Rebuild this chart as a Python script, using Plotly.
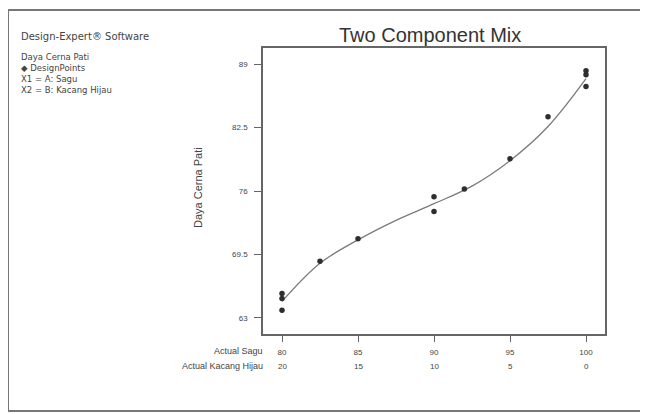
import plotly.graph_objects as go

# ---- data ----
sagu_pts = [80, 80, 80, 82.5, 85, 90, 90, 92, 95, 97.5, 100, 100, 100]
daya_pts = [65.5, 65.0, 63.8, 68.8, 71.1, 75.4, 73.9, 76.2, 79.3, 83.6, 88.3, 87.9, 86.7]

curve_sagu = [80, 82.5, 85, 87.5, 90, 92.5, 95, 97.5, 100]
curve_daya = [64.7, 68.6, 71.0, 73.0, 74.7, 76.5, 79.1, 82.6, 87.5]

sagu_ticks = [80, 85, 90, 95, 100]
kacang_ticks = [20, 15, 10, 5, 0]
y_ticks = [63, 69.5, 76, 82.5, 89]

info_lines = ["Daya Cerna Pati", "◆ DesignPoints", "X1 = A: Sagu", "X2 = B: Kacang Hijau"]

OFF = 8  # page body margin
W, H = 648 - OFF, 414 - OFF
# plot box in page pixels: left 263, right 605, top 48, bottom 334
L, T = 263 - OFF, 48 - OFF
R = W - (605 - OFF)
B = H - (334 - OFF)
PW, PH = W - L - R, H - T - B


def px(x):
    return (x - OFF - L) / PW


def py(y):
    return (H - B - (y - OFF)) / PH


FONT = "Liberation Sans, Arial, sans-serif"
WIDE = "DejaVu Sans, sans-serif"

fig = go.Figure()
fig.add_trace(go.Scatter(
    x=curve_sagu, y=curve_daya, mode="lines",
    line=dict(color="#7a7a7a", width=1.3, shape="spline", smoothing=1.0),
    hoverinfo="skip", showlegend=False))
fig.add_trace(go.Scatter(
    x=sagu_pts, y=daya_pts, mode="markers",
    marker=dict(color="#2e2e2e", size=5.5, symbol="circle"),
    showlegend=False))

fig.update_xaxes(
    range=[78.75, 101.25], tickvals=sagu_ticks, ticktext=[str(v) for v in sagu_ticks],
    ticks="outside", ticklen=6, tickcolor="#666", showgrid=False, zeroline=False,
    showline=True, linecolor="#666", linewidth=1.5, mirror=True, ticklabelstandoff=4,
    tickfont=dict(family=FONT, size=8, color="#444"))
fig.update_yaxes(
    range=[61.36, 90.64], tickvals=y_ticks, ticktext=[str(v) for v in y_ticks],
    ticks="outside", ticklen=7, tickcolor="#666", showgrid=False, zeroline=False,
    showline=True, linecolor="#666", linewidth=1.5, mirror=True, ticklabelstandoff=5,
    tickfont=dict(family=FONT, size=8, color="#444"))


def note(x, y, text, size, xanchor="center", yanchor="middle", family=FONT,
         color="#444", **kw):
    return dict(x=x, y=y, xref="paper", yref="paper", text=text, showarrow=False,
                xanchor=xanchor, yanchor=yanchor,
                font=dict(family=family, size=size, color=color), **kw)


ann = []
# second row of x labels
for s, k in zip(sagu_ticks, kacang_ticks):
    ann.append(dict(x=s, y=py(366), xref="x", yref="paper", text=str(k),
                    showarrow=False, xanchor="center", yanchor="middle",
                    font=dict(family=FONT, size=8, color="#444")))
ann.append(note(px(265), py(351), "Actual Sagu", 9, xanchor="right"))
ann.append(note(px(265), py(366), "Actual Kacang Hijau", 9, xanchor="right"))
# y axis title
ann.append(note(px(198), py(188), "Daya Cerna Pati", 11, textangle=-90))
# title
ann.append(note(px(430), py(35), "Two Component Mix", 20, color="#333"))
# left info block
ann.append(note(px(19), py(36), "Design-Expert® Software", 10, xanchor="left", family=WIDE))
ann.append(note(px(19), py(50), "<br>".join(info_lines), 8.5, xanchor="left",
                yanchor="top", family=WIDE, align="left"))

shapes = [dict(type="rect", xref="paper", yref="paper",
               x0=px(8), x1=px(642), y0=py(411), y1=py(10),
               line=dict(color="#777", width=2))]

fig.update_layout(
    width=W, height=H, margin=dict(l=L, r=R, t=T, b=B, pad=0),
    paper_bgcolor="white", plot_bgcolor="white",
    annotations=ann, shapes=shapes, showlegend=False)

fig.write_html("out.html")
